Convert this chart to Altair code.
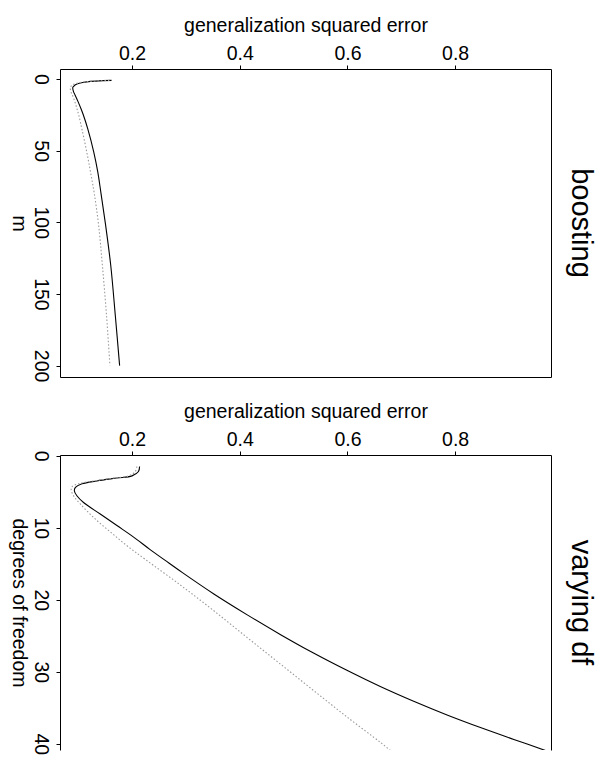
import altair as alt
import pandas as pd

FONT = "Liberation Sans"
FS = 19.5

# ---- top panel: boosting ----
boost_m = [1, 2, 3, 4, 5, 6, 9, 11, 16, 21, 25, 35, 51, 65, 80, 102, 130, 165, 200]
boost_solid = [0.162, 0.116, 0.102, 0.095, 0.092, 0.090, 0.0915, 0.094, 0.100, 0.1055,
               0.1095, 0.118, 0.129, 0.1365, 0.1425, 0.151, 0.1605, 0.169, 0.177]
boost_dotted = [0.158, 0.112, 0.097, 0.090, 0.087, 0.0855, 0.0865, 0.089, 0.094, 0.098,
                0.101, 0.107, 0.116, 0.123, 0.130, 0.138, 0.145, 0.1527, 0.159]

# ---- bottom panel: varying df ----
df_solid_t = [1.5, 2.2, 2.8, 3.1, 3.5, 3.9, 4.4, 4.9, 5.6, 6.5, 8.1, 9.7, 11.3, 13.0, 14.5,
              16.2, 19.2, 22.1, 24.85, 27.4, 29.8, 32.05, 34.1, 36.0, 37.75, 39.4, 41.0]
df_solid = [0.214, 0.212, 0.200, 0.172, 0.135, 0.107, 0.095, 0.093, 0.098, 0.110, 0.141,
            0.172, 0.203, 0.233, 0.261, 0.293, 0.352, 0.414, 0.476, 0.537, 0.599, 0.661,
            0.723, 0.785, 0.847, 0.909, 0.970]
df_dot_t = [1.5, 2.2, 2.8, 3.1, 3.5, 3.9, 4.3, 4.7, 5.6, 6.7, 8.6, 10.6, 12.5, 14.4, 17.8,
            21.3, 25.2, 28.9, 32.6, 36.3, 39.8, 41.0]
df_dot = [0.209, 0.206, 0.194, 0.166, 0.129, 0.100, 0.0886, 0.087, 0.0917, 0.104, 0.129,
          0.160, 0.1907, 0.2247, 0.287, 0.348, 0.413, 0.475, 0.537, 0.5995, 0.661, 0.681]

x_ticks = [0.2, 0.4, 0.6, 0.8]
x_domain = [0.0663, 0.978]

W = 491


def make_df(t, v):
    return pd.DataFrame({"t": t, "err": v})


def panel(solid_t, solid_v, dot_t, dot_v, ydomain, yticks, ytitle, title, H, bottom_border):
    xscale = alt.Scale(domain=x_domain, nice=False, zero=False)
    yscale = alt.Scale(domain=ydomain, nice=False, zero=False, reverse=True)
    x_enc = alt.X(
        "err:Q", scale=xscale,
        axis=alt.Axis(
            orient="top", values=x_ticks, format=".1f", grid=False,
            title="generalization squared error", titleY=-38,
            titleBaseline="alphabetic", titleFont=FONT, titleFontSize=FS,
            titleFontWeight="normal", titleColor="black",
            labelFont=FONT, labelFontSize=FS, labelColor="black",
            labelPadding=2, labelFlush=False, labelOverlap=False,
            tickSize=4, tickColor="black", domainColor="black",
        ),
    )
    y_enc = alt.Y(
        "t:Q", scale=yscale,
        axis=alt.Axis(
            orient="left", values=yticks, grid=False,
            labelAngle=90, labelAlign="center", labelBaseline="top",
            labelFont=FONT, labelFontSize=FS, labelColor="black",
            labelPadding=7, labelFlush=False, labelOverlap=False,
            tickSize=4, tickColor="black", domainColor="black",
            title=ytitle, titleAngle=90, titleX=-48, titleY=H / 2,
            titleAlign="center", titleBaseline="alphabetic",
            titleFont=FONT, titleFontSize=FS, titleFontWeight="normal",
            titleColor="black",
        ),
    )
    if bottom_border:
        x2_axis = alt.Axis(orient="bottom", labels=False, ticks=False, title=None,
                           grid=False, domainColor="black")
    else:
        x2_axis = None
    y2_axis = alt.Axis(orient="right", labels=False, ticks=False, title=None,
                       grid=False, domainColor="black")
    solid = alt.Chart(make_df(solid_t, solid_v)).mark_line(
        color="black", strokeWidth=1.1, interpolate="catmull-rom", clip=True
    ).encode(x=x_enc, y=y_enc, order=alt.Order("t:Q"))
    dotted = alt.Chart(make_df(dot_t, dot_v)).mark_line(
        color="#9a9a9a", strokeWidth=1.1, strokeDash=[1.5, 2],
        interpolate="catmull-rom", clip=True
    ).encode(
        x=alt.X("err:Q", scale=xscale, axis=x2_axis),
        y=alt.Y("t:Q", scale=yscale, axis=y2_axis),
        order=alt.Order("t:Q"),
    )
    return alt.layer(solid, dotted).resolve_axis(x="independent", y="independent").properties(
        width=W, height=H,
        view=alt.ViewBackground(stroke=None),
        title=alt.TitleParams(
            text=title, orient="right", anchor="middle", angle=90,
            baseline="bottom", offset=-14, font=FONT, fontSize=29,
            fontWeight="normal", color="black",
        ),
    )


top = panel(boost_m, boost_solid, boost_m, boost_dotted,
            [-6.96, 207.96], [0, 50, 100, 150, 200], "m", "boosting", 308, True)
bottom = panel(df_solid_t, df_solid, df_dot_t, df_dot,
               [-0.1, 40.87], [0, 10, 20, 30, 40], "degrees of freedom", "varying df", 295, False)

chart = alt.vconcat(top, bottom, spacing=78, bounds="flush").properties(
    padding={"left": 0, "top": 7, "right": 8, "bottom": 0}
).configure_view(stroke=None).configure(background="white")

chart.save("out.html", embed_options={"renderer": "svg", "actions": False})
